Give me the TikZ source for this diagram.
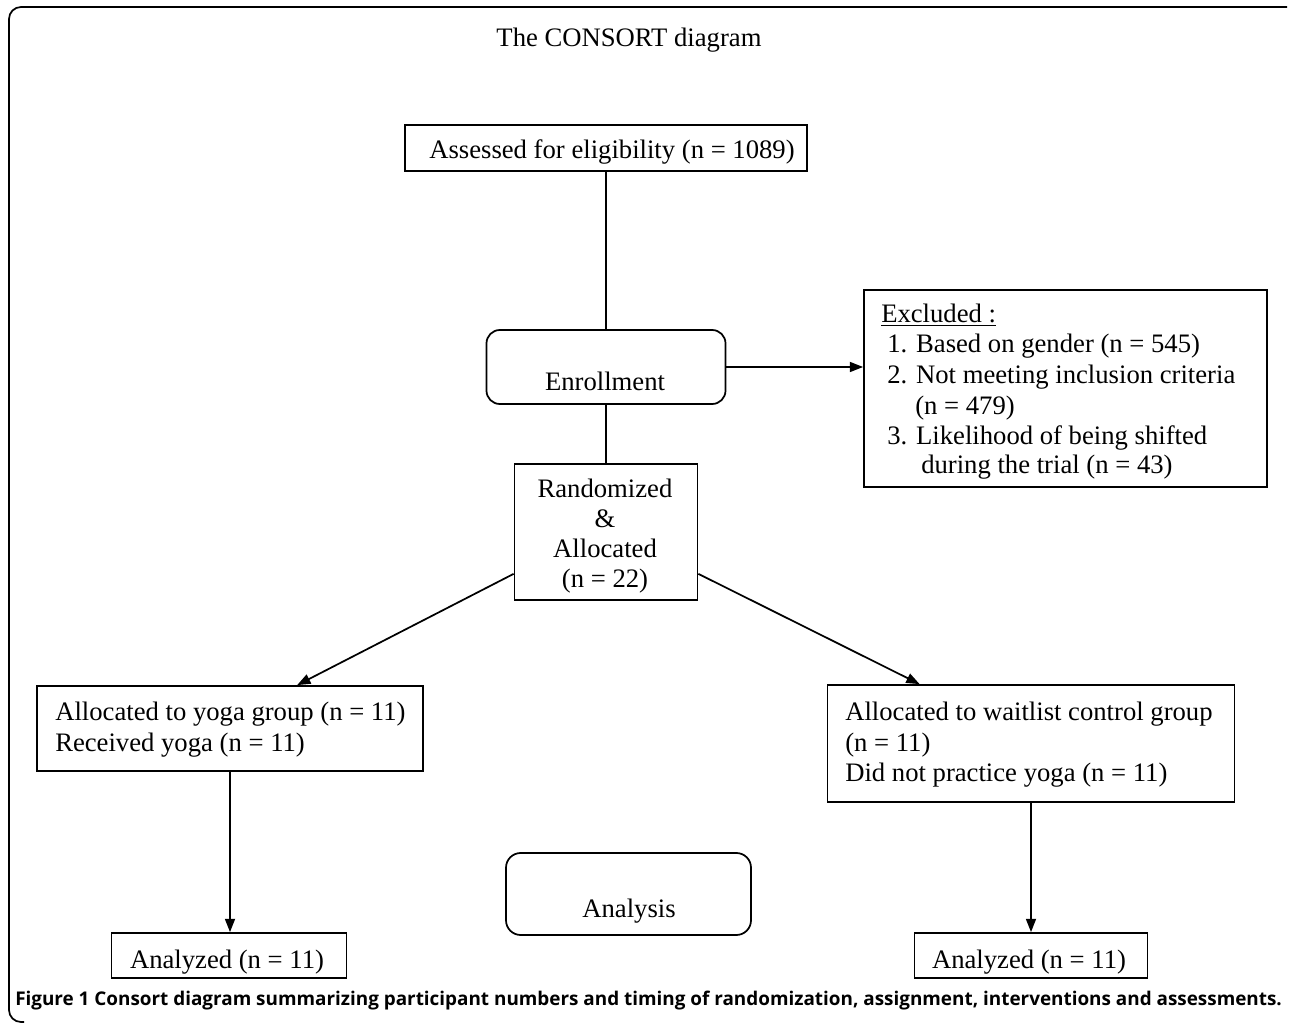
\documentclass[tikz,border=0pt]{standalone}
\usepackage{fontspec}
\setmainfont{Liberation Serif}
\newfontfamily\capfont{Open Sans}
\usetikzlibrary{arrows.meta,calc}
\begin{document}
\begin{tikzpicture}[x=0.75pt,y=-0.75pt,
  box/.style={draw, line width=1.3pt, inner sep=0pt, rectangle},
  rbox/.style={draw, line width=1.3pt, inner sep=0pt, rectangle, rounded corners=10pt},
  lbl/.style={inner sep=0pt, anchor=base, font=\fontsize{20pt}{22.5pt}\selectfont},
  lblw/.style={lbl, anchor=base west},
  ln/.style={line width=1.3pt},
  arr/.style={line width=1.3pt, -{Triangle[length=10pt,width=7.5pt]}},
  frame/.style={line width=1.3pt, rounded corners=9pt}]
\useasboundingbox (0,0) rectangle (1290,1023);
% outer frame
\coordinate (fr1) at (1287,7);
\coordinate (fr2) at (9,7);
\coordinate (fr3) at (9,1022);
\coordinate (fr4) at (24,1022);
\draw[frame] (fr1) -- (fr2) -- (fr3) -- (fr4);
% title
\node[lbl] (title) at (629,47) {The CONSORT diagram};
% boxes
\node[box, minimum width=301.5pt, minimum height=34.5pt] (ass) at (606,148) {};
\node[rbox, minimum width=179.25pt, minimum height=55.5pt] (enr) at (606,367) {};
\node[box, minimum width=302.25pt, minimum height=147.75pt] (exc) at (1065.5,388.5) {};
\node[box, minimum width=137.25pt, minimum height=102pt] (rand) at (606,532) {};
\node[box, minimum width=289.5pt, minimum height=63.75pt] (yoga) at (230,728.5) {};
\node[box, minimum width=305.25pt, minimum height=87.75pt] (wait) at (1031,743.5) {};
\node[box, minimum width=176.25pt, minimum height=33.75pt] (anl) at (229,955.5) {};
\node[box, minimum width=174.75pt, minimum height=33.75pt] (anr) at (1031,955.5) {};
\node[rbox, minimum width=183.75pt, minimum height=61.5pt, rounded corners=11pt] (ana) at (628.5,894) {};
% texts
\node[lbl] (asst) at (612,159) {Assessed for eligibility (n = 1089)};
\node[lbl] (enrt) at (605,391) {Enrollment};
\node[lblw] (exc1) at (881,323) {\underline{Excluded :}};
\node[lblw] (exc2) at (887,353) {1. Based on gender (n = 545)};
\node[lblw] (exc3) at (887,384) {2. Not meeting inclusion criteria};
\node[lblw] (exc4) at (915,415) {(n = 479)};
\node[lblw] (exc5) at (887,445) {3. Likelihood of being shifted};
\node[lblw] (exc6) at (921,474) {during the trial (n = 43)};
\node[lbl] (rand1) at (605,498) {Randomized};
\node[lbl] (rand2) at (605,528) {\&};
\node[lbl] (rand3) at (605,558) {Allocated};
\node[lbl] (rand4) at (605,588) {(n = 22)};
\node[lblw] (yoga1) at (55,720) {Allocated to yoga group (n = 11)};
\node[lblw] (yoga2) at (55,751) {Received yoga (n = 11)};
\node[lblw] (wait1) at (845,720) {Allocated to waitlist control group};
\node[lblw] (wait2) at (845,751) {(n = 11)};
\node[lblw] (wait3) at (845,781) {Did not practice yoga (n = 11)};
\node[lbl] (anlt) at (227,968) {Analyzed (n = 11)};
\node[lbl] (anrt) at (1029,968) {Analyzed (n = 11)};
\node[lbl] (anat) at (629,917) {Analysis};
\node[inner sep=0pt, anchor=base west] (cap) at (15,1005)
  {\resizebox{950pt}{!}{\capfont\bfseries Figure 1 Consort diagram summarizing participant numbers and timing of randomization, assignment, interventions and assessments.}};
% connectors
\draw[ln] (ass.south) -- (ass.south |- enr.north);
\draw[arr] (enr.east) -- (enr.east -| exc.west);
\draw[ln] (enr.south) -- (rand.north);
\draw[arr] ($(rand.south west)+(0,-27)$) -- ($(yoga.north west)+(261,0)$);
\draw[arr] ($(rand.south east)+(0,-27)$) -- ($(wait.north west)+(93,0)$);
\draw[arr] (yoga.south) -- (yoga.south |- anl.north);
\draw[arr] (wait.south) -- (wait.south |- anr.north);
\end{tikzpicture}
\end{document}
